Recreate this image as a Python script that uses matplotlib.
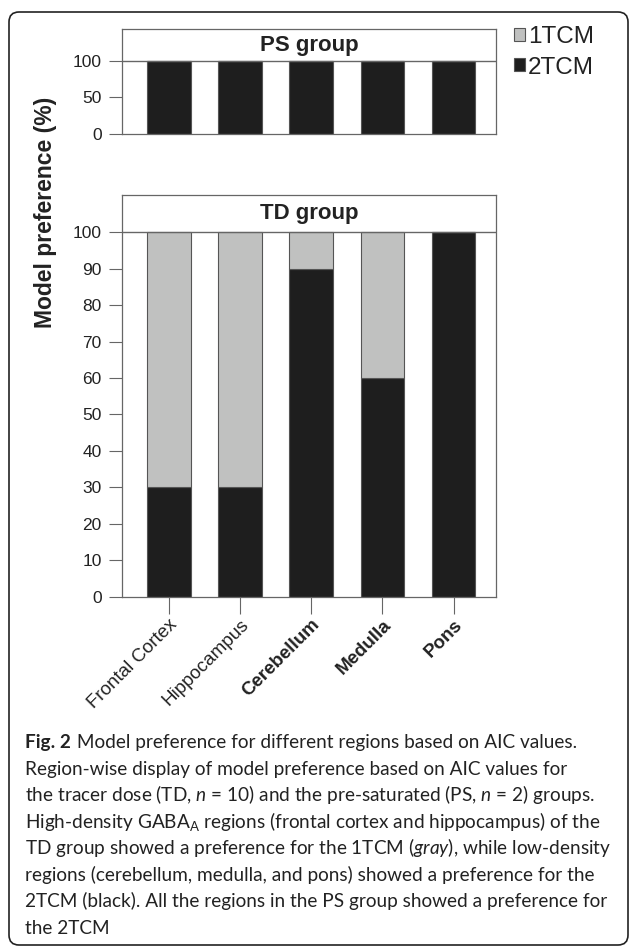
import numpy as np
import matplotlib
matplotlib.use("Agg")
import matplotlib.pyplot as plt
from matplotlib.patches import FancyBboxPatch
from matplotlib.transforms import IdentityTransform

# data
regions = ["Frontal Cortex", "Hippocampus", "Cerebellum", "Medulla", "Pons"]
bold_region = [False, False, True, True, True]
ps_2tcm = [100, 100, 100, 100, 100]
ps_1tcm = [0, 0, 0, 0, 0]
td_2tcm = [30, 30, 90, 60, 100]
td_1tcm = [70, 70, 10, 40, 0]

caption_head = "Fig. 2"
caption = [
    " Model preference for different regions based on AIC values.",
    "Region-wise display of model preference based on AIC values for",
    r"the tracer dose (TD, $\mathit{n}$ = 10) and the pre-saturated (PS, $\mathit{n}$ = 2) groups.",
    r"High-density GABA${}_{\mathrm{A}}$ regions (frontal cortex and hippocampus) of the",
    r"TD group showed a preference for the 1TCM ($\mathit{gray}$), while low-density",
    "regions (cerebellum, medulla, and pons) showed a preference for the",
    "2TCM (black). All the regions in the PS group showed a preference for",
    "the 2TCM",
]

plt.rcParams["font.family"] = ["Liberation Sans", "DejaVu Sans"]
plt.rcParams["mathtext.fontset"] = "custom"
plt.rcParams["mathtext.rm"] = "Lato"
plt.rcParams["mathtext.it"] = "Lato:italic"
plt.rcParams["mathtext.bf"] = "Lato:bold"

BLACK = "#1e1e1e"
GRAY = "#c0c1c0"
EDGE = "#555555"
SPINE = "#666666"
TXT = "#222222"

W, H = 630, 947
fig = plt.figure(figsize=(W / 100, H / 100), dpi=100)


def px_box(left, top, right, bottom):
    return [left / W, 1 - bottom / H, (right - left) / W, (bottom - top) / H]


ax_ps = fig.add_axes(px_box(122, 29.3, 496, 134))
ax_td = fig.add_axes(px_box(122, 195, 496, 596.7))

x = np.arange(len(regions))
handles = None
for ax, low, high, ytop, title in [
    (ax_ps, ps_2tcm, ps_1tcm, 143.4, "PS group"),
    (ax_td, td_2tcm, td_1tcm, 110.2, "TD group"),
]:
    b2 = ax.bar(x, low, width=0.61, color=BLACK, edgecolor=EDGE, linewidth=0.8, label="2TCM")
    b1 = ax.bar(x, high, bottom=low, width=0.61, color=GRAY, edgecolor=EDGE, linewidth=0.8, label="1TCM")
    handles = [b1, b2]
    ax.axhline(100, color=SPINE, linewidth=1.0)
    ax.set_ylim(0, ytop)
    ax.set_xlim(-0.657, 4.595)
    for s in ax.spines.values():
        s.set_color(SPINE)
        s.set_linewidth(0.9)
    ax.tick_params(axis="y", length=9.5, width=0.8, color=SPINE, pad=5,
                   labelsize=12.5, labelcolor=TXT)
    ax.text(0.5, (100 + ytop) / 2, title, transform=ax.get_yaxis_transform(),
            ha="center", va="center", fontsize=16, fontweight="bold", color=TXT)

ax_ps.set_yticks([0, 50, 100])
ax_ps.set_xticks([])

ax_td.set_yticks(range(0, 101, 10))
ax_td.set_xticks(x)
ax_td.set_xticklabels(regions, rotation=45, ha="right", va="top", rotation_mode="anchor")
ax_td.tick_params(axis="x", length=12, width=0.8, color=SPINE, pad=2,
                  labelsize=13.5, labelcolor=TXT)
for lab, b in zip(ax_td.get_xticklabels(), bold_region):
    if b:
        lab.set_fontweight("bold")

fig.text(46 / W, 1 - 212 / H, "Model preference (%)", rotation=90, ha="center",
         va="center", fontsize=16.5, fontweight="bold", color=TXT)

fig.legend(handles=handles, labels=["1TCM", "2TCM"], loc="upper left",
           bbox_to_anchor=(514 / W, 1 - 26 / H), frameon=False,
           prop={"family": "Liberation Sans", "size": 17.5},
           handlelength=0.45, handleheight=0.45, handletextpad=0.12,
           labelspacing=0.35, borderpad=0, borderaxespad=0, labelcolor=TXT)

# caption, one text per printed line
cap_size = 13.7
baselines = [748, 774.5, 801, 827.5, 854, 880.5, 907, 933.5]
renderer = fig.canvas.get_renderer()
head = fig.text(25 / W, 1 - baselines[0] / H, caption_head, fontsize=cap_size,
                family="Lato", fontweight="bold", va="baseline", color=TXT)
head_end = head.get_window_extent(renderer).x1 + 1
for i, (line, yb) in enumerate(zip(caption, baselines)):
    x0 = head_end / W if i == 0 else 25 / W
    fig.text(x0, 1 - yb / H, line, fontsize=cap_size, family="Lato", va="baseline",
             ha="left", color=TXT)

# rounded frame around the whole panel
frame = FancyBboxPatch((9, 2), 619, 933, boxstyle="round,pad=0,rounding_size=10",
                       transform=IdentityTransform(), fill=False,
                       edgecolor="#222222", linewidth=1.2)
fig.add_artist(frame)

fig.savefig("out.png", dpi=100)
